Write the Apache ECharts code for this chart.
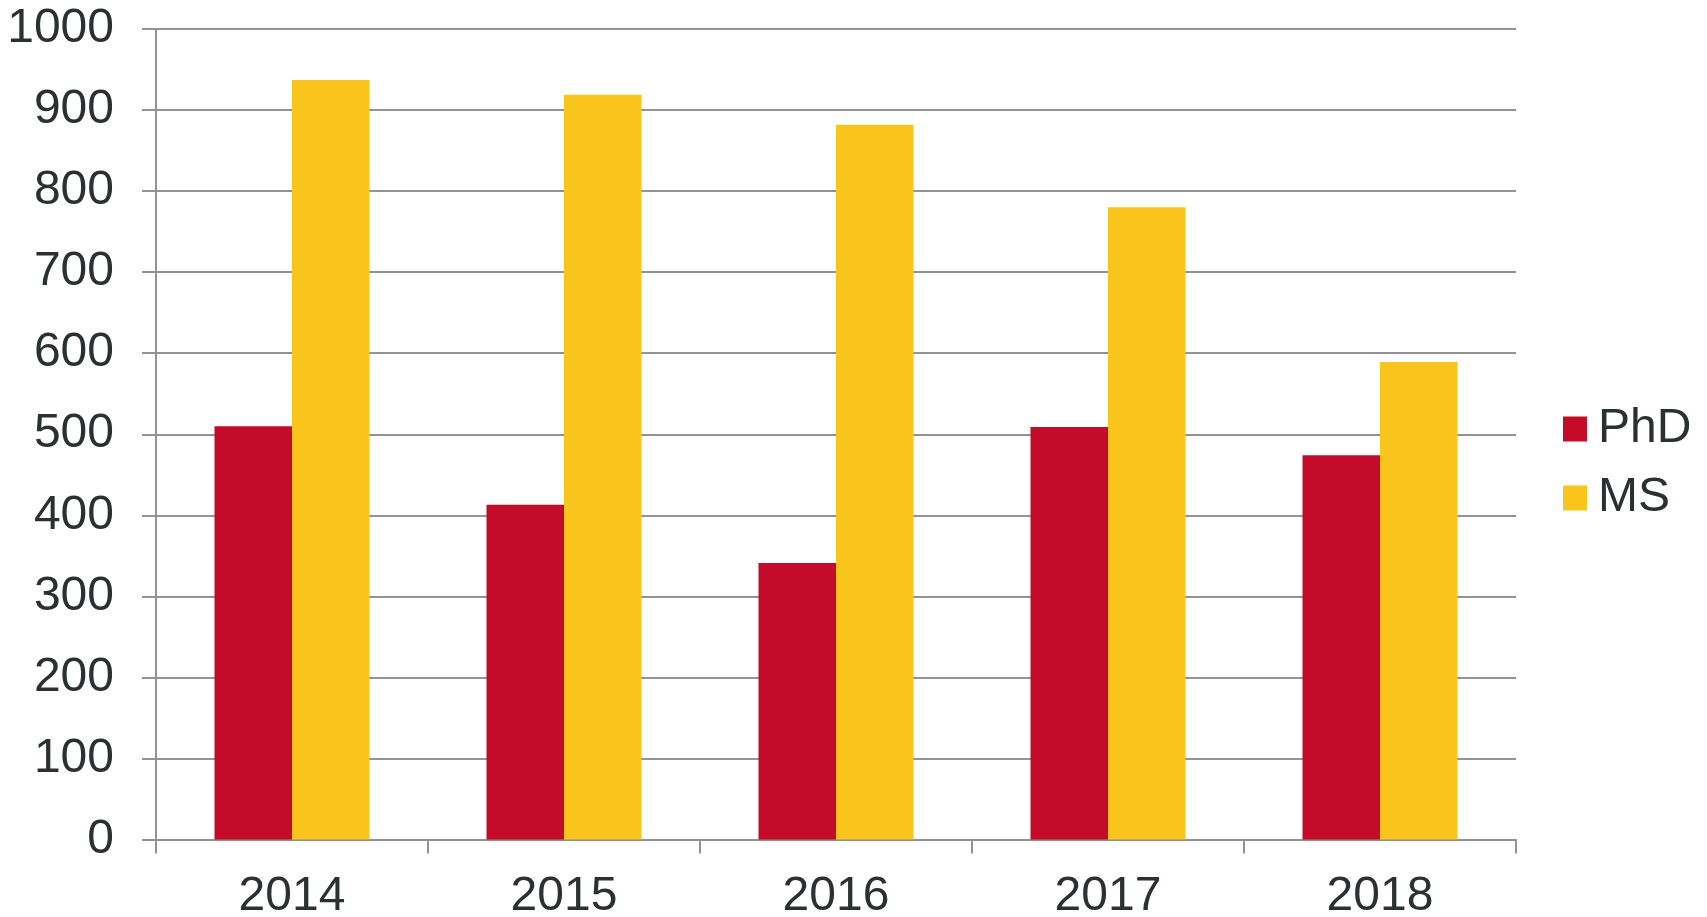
<!DOCTYPE html>
<html>
<head>
<meta charset="utf-8">
<script src="https://cdn.jsdelivr.net/npm/echarts@6/dist/echarts.min.js"></script>
<style>
html, body { margin: 0; padding: 0; background: #fff; }
#chart { width: 1707px; height: 917px; }
</style>
</head>
<body>
<div id="chart"></div>
<script>
var years = ['2014', '2015', '2016', '2017', '2018'];
var phd = [510, 413, 341, 509, 474];
var ms = [937, 919, 882, 780, 589];
var yTicks = [0, 1000, 100]; // min, max, step

var textColor = '#2b3030';
var lineColor = '#939393';
var phdColor = '#c40b2a';
var msColor = '#f9c41c';

var option = {
    backgroundColor: '#fff',
    textStyle: { fontFamily: 'Liberation Sans, Arial, sans-serif' },
    grid: { left: 156, top: 29, right: 191, bottom: 77.5, outerBoundsMode: 'none' },
    legend: {
        orient: 'vertical',
        left: 1558,
        top: 400,
        itemWidth: 24,
        itemHeight: 25,
        itemGap: 21,
        icon: 'rect',
        data: ['PhD', 'MS'],
        textStyle: { fontSize: 48, lineHeight: 48, color: textColor, padding: [0, 0, 0, 6] }
    },
    xAxis: {
        type: 'category',
        data: years,
        axisLine: { lineStyle: { color: lineColor, width: 2 } },
        axisTick: { show: true, length: 14, lineStyle: { color: lineColor, width: 2 } },
        axisLabel: { fontSize: 48, color: textColor, margin: 33 }
    },
    yAxis: {
        type: 'value',
        min: yTicks[0],
        max: yTicks[1],
        interval: yTicks[2],
        axisLine: { show: true, lineStyle: { color: lineColor, width: 2 } },
        axisTick: { show: true, length: 14, lineStyle: { color: lineColor, width: 2 } },
        splitLine: { lineStyle: { color: lineColor, width: 2 } },
        axisLabel: { fontSize: 48, color: textColor, margin: 42, formatter: function (v) { return String(v); } }
    },
    series: [{
        name: 'PhD',
        type: 'bar',
        data: phd,
        barGap: '0%',
        barCategoryGap: '43%',
        itemStyle: { color: phdColor }
    }, {
        name: 'MS',
        type: 'bar',
        data: ms,
        itemStyle: { color: msColor }
    }]
};
var myChart = echarts.init(document.getElementById('chart'));
myChart.setOption(option);
</script>
</body>
</html>
